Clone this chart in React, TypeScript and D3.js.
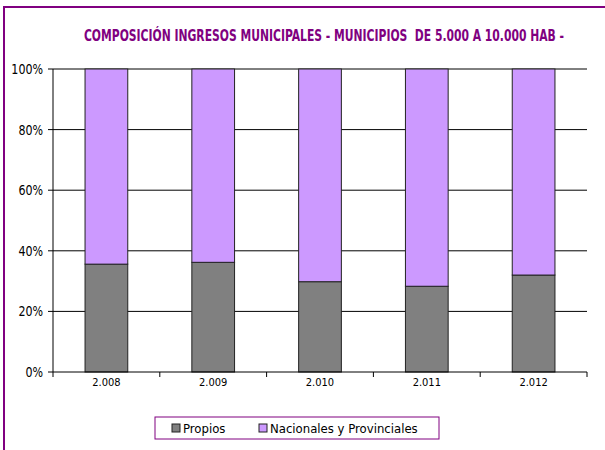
import React from "react";
import * as d3 from "d3";

const years = ["2.008", "2.009", "2.010", "2.011", "2.012"];
const propios = [35.6, 36.2, 29.8, 28.3, 32.0];
const nacionales = [64.4, 63.8, 70.2, 71.7, 68.0];
const yTicks = [0, 20, 40, 60, 80, 100];
const seriesNames = ["Propios", "Nacionales y Provinciales"];
const seriesColors = ["#808080", "#cc99ff"];

const font = "'DejaVu Sans Condensed', sans-serif";

export default function App() {
  const width = 605;
  const height = 450;
  const margin = { top: 69, right: 18, bottom: 78, left: 53 };

  const x = d3
    .scaleBand<string>()
    .domain(years)
    .range([margin.left, width - margin.right])
    .paddingInner(0.6)
    .paddingOuter(0.3);
  const bands = d3
    .scaleBand<string>()
    .domain(years)
    .range([margin.left, width - margin.right]);
  const y = d3
    .scaleLinear()
    .domain([0, 100])
    .range([height - margin.bottom, margin.top]);

  const rows = years.map((yr, i) => ({ year: yr, Propios: propios[i], Nacionales: nacionales[i] }));
  const layers = d3.stack<any>().keys(["Propios", "Nacionales"])(rows);

  const x0 = margin.left;
  const x1 = width - margin.right;

  return (
    <div style={{ position: "absolute", left: 0, top: 0 }}>
      <svg width={width} height={height} style={{ display: "block", background: "#fff" }}>
        <rect x={4} y={7} width={620} height={460} fill="none" stroke="#800080" strokeWidth={2} />
        <text
          transform="translate(324,41) scale(0.75,1)"
          textAnchor="middle"
          fill="#800080"
          fontFamily={font}
          fontWeight="bold"
          fontSize={16}
          style={{ whiteSpace: "pre" }}
        >
          COMPOSICIÓN INGRESOS MUNICIPALES - MUNICIPIOS  DE 5.000 A 10.000 HAB -
        </text>

        {yTicks.map((t) => (
          <g key={t}>
            {t > 0 && <line x1={x0} x2={x1} y1={y(t)} y2={y(t)} stroke="#000" strokeWidth={1} />}
            <line x1={x0 - 5} x2={x0} y1={y(t)} y2={y(t)} stroke="#000" />
            <text
              transform={`translate(43,${y(t)}) scale(0.88,1)`}
              dy="0.35em"
              textAnchor="end"
              fontFamily={font}
              fontSize={14}
              fill="#000"
            >
              {t}%
            </text>
          </g>
        ))}

        {layers.map((layer, li) => (
          <g key={layer.key} fill={seriesColors[li]}>
            {layer.map((d: any) => (
              <rect
                key={d.data.year}
                x={x(d.data.year)}
                y={y(d[1])}
                width={x.bandwidth()}
                height={y(d[0]) - y(d[1])}
                stroke="#222"
                strokeWidth={1}
              />
            ))}
          </g>
        ))}

        <line x1={x0} x2={x0} y1={y(0)} y2={y(100)} stroke="#000" />
        <line x1={x0} x2={x1} y1={y(0)} y2={y(0)} stroke="#000" />
        {[...years.map((yr) => bands(yr) as number), x1].map((p, i) => (
          <line key={i} x1={p} x2={p} y1={y(0)} y2={y(0) + 5} stroke="#000" />
        ))}
        {years.map((yr) => (
          <text
            key={yr}
            x={(bands(yr) as number) + bands.bandwidth() / 2}
            y={386}
            textAnchor="middle"
            fontFamily={font}
            fontSize={11}
            fill="#000"
          >
            {yr}
          </text>
        ))}

        <rect x={155} y={417} width={284} height={22} fill="#fff" stroke="#800080" strokeWidth={1} />
        {seriesNames.map((name, i) => {
          const lx = i === 0 ? 172 : 259;
          return (
            <g key={name}>
              <rect x={lx} y={424} width={8} height={8} fill={seriesColors[i]} stroke="#222" />
              <text x={lx + 11} y={433} fontFamily={font} fontSize={13} fill="#000">
                {name}
              </text>
            </g>
          );
        })}
      </svg>
    </div>
  );
}
